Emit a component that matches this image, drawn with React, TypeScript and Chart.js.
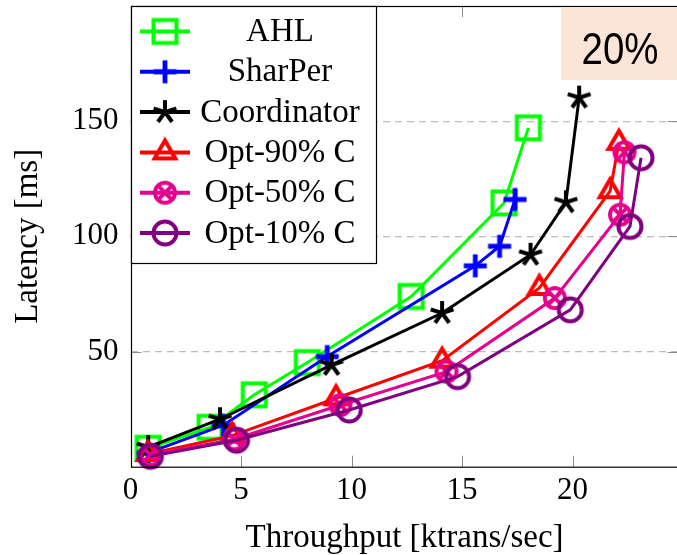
import React, { useEffect, useRef } from 'react';
import { Chart, registerables } from 'chart.js';

Chart.register(...registerables);

// ---------- data ----------
const seriesNames = ['AHL', 'SharPer', 'Coordinator', 'Opt-90% C', 'Opt-50% C', 'Opt-10% C'];

const ahlX = [0.8, 3.6, 5.6, 8.0, 12.7, 16.9, 18.0];
const ahlY = [8.0, 17.1, 31.2, 45.2, 73.9, 114.5, 147.1];

const sharperX = [0.8, 4.2, 8.9, 15.6, 16.7, 17.4];
const sharperY = [6.0, 18.0, 47.8, 87.2, 95.7, 116.0];

const coordX = [0.8, 4.05, 9.1, 14.1, 18.1, 19.7, 20.3];
const coordY = [8.5, 20.6, 44.2, 66.7, 92.0, 114.8, 160.2];

const opt90X = [0.8, 4.6, 9.3, 14.1, 18.5, 21.7, 22.1];
const opt90Y = [5.5, 13.5, 29.7, 46.0, 77.6, 119.6, 140.6];

const opt50X = [0.9, 4.7, 9.5, 14.3, 19.2, 22.15, 22.35];
const opt50Y = [5.1, 11.9, 26.8, 41.3, 73.2, 109.4, 136.5];

const opt10X = [0.9, 4.8, 9.9, 14.8, 19.9, 22.6, 23.1];
const opt10Y = [4.5, 11.5, 24.6, 39.1, 68.1, 104.3, 134.1];

const seriesX = [ahlX, sharperX, coordX, opt90X, opt50X, opt10X];
const seriesY = [ahlY, sharperY, coordY, opt90Y, opt50Y, opt10Y];

const xTickValues = [0, 5, 10, 15, 20];
const yTickValues = [50, 100, 150];
const xTitle = 'Throughput [ktrans/sec]';
const yTitle = 'Latency [ms]';
const badgeText = '20%';

// ---------- styles ----------
const colors = ['#00ff00', '#0000ff', '#000000', '#ff0000', '#e6008c', '#800080'];
const markerKinds = ['square', 'plus', 'star', 'triangle', 'otimes', 'circle'];
const SERIF = '"Liberation Serif", "Times New Roman", serif';

function makeMarker(kind: string, color: string): HTMLCanvasElement {
  const size = 34;
  const c = document.createElement('canvas');
  c.width = size;
  c.height = size;
  const ctx = c.getContext('2d')!;
  const m = size / 2;
  ctx.strokeStyle = color;
  ctx.lineWidth = 4;
  ctx.lineCap = 'butt';
  ctx.lineJoin = 'miter';
  ctx.beginPath();
  if (kind === 'square') {
    ctx.rect(m - 11.5, m - 11.5, 23, 23);
  } else if (kind === 'plus') {
    ctx.lineWidth = 4.8;
    ctx.moveTo(m - 11.5, m);
    ctx.lineTo(m + 11.5, m);
    ctx.moveTo(m, m - 11.5);
    ctx.lineTo(m, m + 11.5);
  } else if (kind === 'star') {
    ctx.lineWidth = 4;
    for (let k = 0; k < 5; k++) {
      const a = -Math.PI / 2 + (k * 2 * Math.PI) / 5;
      ctx.moveTo(m, m);
      ctx.lineTo(m + 12 * Math.cos(a), m + 12 * Math.sin(a));
    }
  } else if (kind === 'triangle') {
    const r = 12;
    ctx.moveTo(m, m - r);
    ctx.lineTo(m + r * 0.866, m + r * 0.5);
    ctx.lineTo(m - r * 0.866, m + r * 0.5);
    ctx.closePath();
  } else if (kind === 'otimes') {
    const r = 10;
    ctx.arc(m, m, r, 0, Math.PI * 2);
    const d = r * 0.7071;
    ctx.moveTo(m - d, m - d);
    ctx.lineTo(m + d, m + d);
    ctx.moveTo(m + d, m - d);
    ctx.lineTo(m - d, m + d);
  } else {
    ctx.arc(m, m, 11.5, 0, Math.PI * 2);
  }
  ctx.stroke();
  return c;
}

export default function App() {
  const ref = useRef<HTMLCanvasElement | null>(null);

  useEffect(() => {
    const canvas = ref.current;
    if (!canvas) return;
    const markers = markerKinds.map((k, i) => makeMarker(k, colors[i]));

    const decor = {
      id: 'decor',
      afterDraw(chart: any) {
        const { ctx, chartArea: a, scales } = chart;
        const xs = scales.x;
        const ys = scales.y;
        ctx.save();
        // tick marks (inside, all sides)
        ctx.strokeStyle = '#8c8c8c';
        ctx.lineWidth = 1;
        ctx.setLineDash([]);
        ctx.beginPath();
        for (const v of xTickValues) {
          const px = Math.round(xs.getPixelForValue(v)) + 0.5;
          ctx.moveTo(px, a.bottom);
          ctx.lineTo(px, a.bottom - 11);
          ctx.moveTo(px, a.top);
          ctx.lineTo(px, a.top + 11);
        }
        for (const v of yTickValues) {
          const py = Math.round(ys.getPixelForValue(v)) + 0.5;
          ctx.moveTo(a.left, py);
          ctx.lineTo(a.left + 11, py);
          ctx.moveTo(a.right, py);
          ctx.lineTo(a.right - 11, py);
        }
        ctx.stroke();
        // frame
        ctx.strokeStyle = '#000';
        ctx.lineWidth = 1.2;
        ctx.strokeRect(Math.round(a.left) + 0.5, Math.round(a.top) + 0.5, a.right - a.left, a.bottom - a.top);

        // legend
        const lx = Math.round(a.left) + 0.5;
        const ly = Math.round(a.top) + 0.5;
        const lw = 245;
        const lh = 257;
        ctx.fillStyle = '#ffffff';
        ctx.fillRect(lx, ly, lw, lh);
        ctx.strokeStyle = '#000';
        ctx.lineWidth = 1.2;
        ctx.strokeRect(lx, ly, lw, lh);
        chart.data.datasets.forEach((ds: any, i: number) => {
          const cy = a.top + 25.5 + i * 40.3;
          ctx.strokeStyle = ds.borderColor;
          ctx.lineWidth = 4;
          ctx.beginPath();
          ctx.moveTo(a.left + 9.5, cy);
          ctx.lineTo(a.left + 59.5, cy);
          ctx.stroke();
          const mk = markers[i];
          ctx.drawImage(mk, a.left + 34.5 - mk.width / 2, cy - mk.height / 2);
          ctx.fillStyle = '#000';
          ctx.font = `33px ${SERIF}`;
          ctx.textAlign = 'center';
          ctx.textBaseline = 'middle';
          ctx.fillText(ds.label, a.left + 149.5, cy + 1);
        });

        // 20% badge
        ctx.fillStyle = '#fbe5d6';
        ctx.fillRect(561, Math.round(a.top) + 1, 130, 73);
        ctx.fillStyle = '#000';
        ctx.font = '44px "Liberation Sans", Arial, sans-serif';
        ctx.textAlign = 'left';
        ctx.textBaseline = 'alphabetic';
        ctx.fillText(badgeText, 581.5, 63.5, 77);
        ctx.restore();
      },
    };

    const chart = new Chart(canvas, {
      type: 'scatter',
      data: {
        datasets: seriesNames.map((name, i) => ({
          label: name,
          data: seriesX[i].map((x, j) => ({ x, y: seriesY[i][j] })),
          borderColor: colors[i],
          backgroundColor: colors[i],
          borderWidth: 3,
          showLine: true,
          tension: 0,
          pointStyle: markers[i],
          pointRadius: 2,
          pointHoverRadius: 2,
          pointBorderWidth: 0,
          pointHoverBorderWidth: 0,
          order: seriesNames.length - i,
          clip: false,
        })),
      },
      options: {
        responsive: false,
        animation: false,
        devicePixelRatio: 1,
        events: [],
        layout: { padding: { top: 6, right: 11.4, left: 0, bottom: 0 } },
        plugins: { legend: { display: false }, tooltip: { enabled: false } },
        scales: {
          x: {
            type: 'linear',
            min: 0,
            max: 24.8,
            afterFit: (s: any) => {
              s.height = 88.3;
              s.paddingLeft = 0;
              s.paddingRight = 0;
              s.paddingTop = 0;
              s.paddingBottom = 0;
            },
            ticks: {
              stepSize: 5,
              includeBounds: false,
              autoSkip: false,
              maxRotation: 0,
              color: '#000',
              padding: 6,
              font: { family: SERIF, size: 31 },
            },
            grid: { display: false, drawTicks: false },
            border: { display: false },
            title: {
              display: true,
              text: xTitle,
              color: '#000',
              font: { family: SERIF, size: 33, lineHeight: 1 },
              padding: { top: 0, bottom: 0 },
            },
          },
          y: {
            type: 'linear',
            min: 0,
            max: 200,
            afterFit: (s: any) => {
              s.width = 130.5;
              s.paddingLeft = 0;
              s.paddingRight = 0;
              s.paddingTop = 0;
              s.paddingBottom = 0;
            },
            ticks: {
              stepSize: 50,
              color: '#000',
              padding: 12,
              font: { family: SERIF, size: 31 },
              callback: (v: any) => (yTickValues.includes(Number(v)) ? String(v) : ''),
            },
            grid: {
              drawTicks: false,
              lineWidth: 1.2,
              color: (c: any) => (yTickValues.includes(c.tick?.value) ? '#bdbdbd' : 'rgba(0,0,0,0)'),
            },
            border: { display: false, dash: [7, 5] },
            title: {
              display: true,
              text: yTitle,
              color: '#000',
              font: { family: SERIF, size: 33, lineHeight: 1 },
              padding: { top: 12, bottom: 0 },
            },
          },
        },
      },
      plugins: [decor],
    } as any);

    return () => chart.destroy();
  }, []);

  return (
    <div style={{ position: 'fixed', left: 0, top: 0, width: 677, height: 555, overflow: 'hidden', background: '#fff' }}>
      <canvas ref={ref} width={690} height={555} style={{ display: 'block' }} />
    </div>
  );
}
